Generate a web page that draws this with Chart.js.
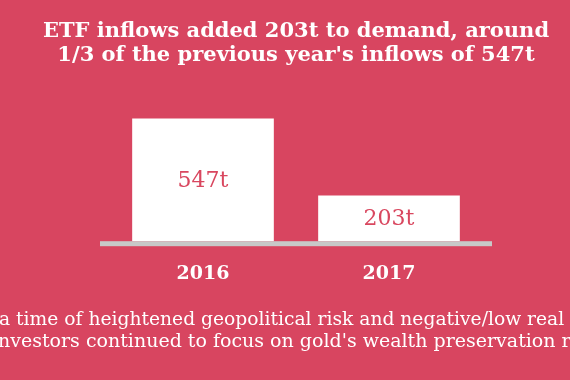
<!DOCTYPE html>
<html>
<head>
<meta charset="utf-8">
<script src="https://cdn.jsdelivr.net/npm/chart.js@4.4.1/dist/chart.umd.min.js"></script>
<style>
  html, body { margin: 0; padding: 0; background: #d84560; }
  #wrap { width: 570px; height: 380px; }
</style>
</head>
<body>
<div id="wrap"><canvas id="etfChart" width="570" height="380"></canvas></div>
<script>
// Dados
const anos = ['2016', '2017'];
const entradasEtf = [547, 203];
const rotulos = ['547t', '203t'];
const titulo = ['ETF inflows added 203t to demand, around', "1/3 of the previous year's inflows of 547t"];
const rodape = [
    { texto: 'In a time of heightened geopolitical risk and negative/low real rates,', corte: 'In ', tamanho: 18.7 },
    { texto: "investors continued to focus on gold's wealth preservation role", corte: 'i', tamanho: 19 }
];

const FUNDO = '#d84560';
const FONTE = "'DejaVu Serif', serif";

// Fundo do canvas
const pluginFundo = {
    id: 'fundo',
    beforeDraw(chart) {
        const ctx = chart.ctx;
        ctx.save();
        ctx.fillStyle = FUNDO;
        ctx.fillRect(0, 0, chart.width, chart.height);
        ctx.restore();
    }
};

// Título em duas linhas (desenhado à mão para não ser comprimido pelo maxWidth)
const pluginTitulo = {
    id: 'tituloLivre',
    afterDraw(chart) {
        const { ctx, chartArea } = chart;
        const centro = (chartArea.left + chartArea.right) / 2;
        ctx.save();
        ctx.fillStyle = '#ffffff';
        ctx.font = "bold 21px " + FONTE;
        ctx.textAlign = 'center';
        ctx.textBaseline = 'alphabetic';
        titulo.forEach((linha, i) => {
            ctx.fillText(linha, centro, 37 + i * 24);
        });
        ctx.restore();
    }
};

// Linha de base cinza sob as barras
const pluginBase = {
    id: 'linhaBase',
    beforeDatasetsDraw(chart) {
        const { ctx, chartArea } = chart;
        ctx.save();
        ctx.fillStyle = '#c8c8c8';
        ctx.fillRect(chartArea.left - 10, chartArea.bottom, chartArea.width + 20, 5);
        ctx.restore();
    }
};

// Rótulos dentro das barras
const pluginRotulos = {
    id: 'rotulosBarras',
    afterDatasetsDraw(chart) {
        const ctx = chart.ctx;
        const meta = chart.getDatasetMeta(0);
        ctx.save();
        ctx.fillStyle = '#d9475f';
        ctx.font = "22px " + FONTE;
        ctx.textAlign = 'center';
        ctx.textBaseline = 'middle';
        meta.data.forEach((bar, i) => {
            ctx.fillText(rotulos[i], bar.x, (bar.y + bar.base) / 2 + 1);
        });
        ctx.restore();
    }
};

// Texto de rodapé (cortado nas bordas, como no original)
const pluginRodape = {
    id: 'rodape',
    afterDraw(chart) {
        const ctx = chart.ctx;
        ctx.save();
        ctx.fillStyle = '#ffffff';
        ctx.textAlign = 'left';
        ctx.textBaseline = 'alphabetic';
        const linhasY = [325, 347];
        const inicioX = [-1, -2];
        rodape.forEach((linha, i) => {
            ctx.font = linha.tamanho + "px " + FONTE;
            const recuo = ctx.measureText(linha.corte).width;
            ctx.fillText(linha.texto, inicioX[i] - recuo, linhasY[i]);
        });
        ctx.restore();
    }
};

new Chart(document.getElementById('etfChart'), {
    type: 'bar',
    data: {
        labels: anos,
        datasets: [{
            data: entradasEtf,
            backgroundColor: '#ffffff',
            borderWidth: 0,
            barThickness: 141
        }]
    },
    options: {
        responsive: false,
        animation: false,
        devicePixelRatio: 1,
        layout: {
            padding: { left: 110, right: 88, top: 107, bottom: 74 }
        },
        plugins: {
            legend: { display: false },
            tooltip: { enabled: false },
            title: { display: false }
        },
        scales: {
            x: {
                grid: { display: false, drawTicks: false },
                border: { display: false },
                ticks: {
                    color: '#ffffff',
                    padding: 21,
                    font: { family: FONTE, size: 19, weight: 'bold' }
                }
            },
            y: {
                display: false,
                min: 0,
                max: 600
            }
        }
    },
    plugins: [pluginFundo, pluginBase, pluginRotulos, pluginTitulo, pluginRodape]
});
</script>
</body>
</html>
